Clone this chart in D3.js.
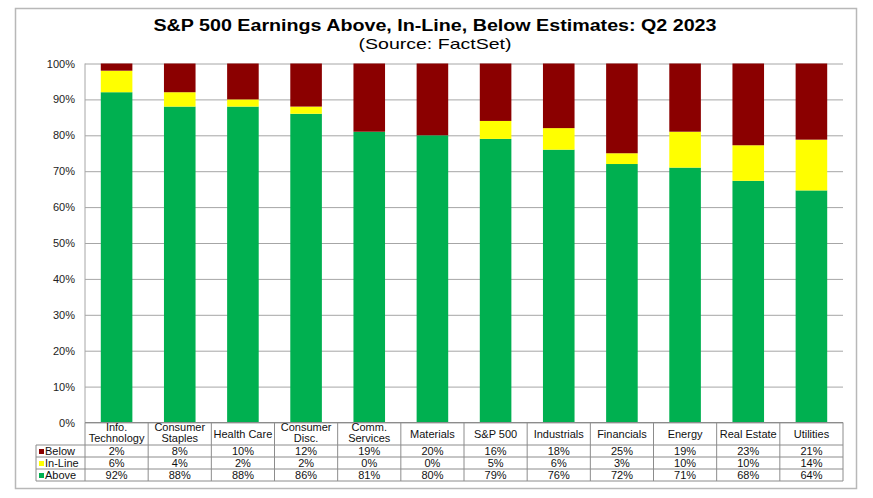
<!DOCTYPE html>
<html>
<head>
<meta charset="utf-8">
<script src="https://cdn.jsdelivr.net/npm/d3@7"></script>
<style>
  html, body { margin: 0; padding: 0; background: #fff; }
  svg { display: block; font-family: "Liberation Sans", Arial, sans-serif; }
</style>
</head>
<body>
<svg id="chart" width="873" height="498"></svg>
<script>
// ---- Data ----
const categories = [
  ["Info.", "Technology"], ["Consumer", "Staples"], ["Health Care"], ["Consumer", "Disc."],
  ["Comm.", "Services"], ["Materials"], ["S&P 500"], ["Industrials"], ["Financials"],
  ["Energy"], ["Real Estate"], ["Utilities"]
];
const below  = [2, 8, 10, 12, 19, 20, 16, 18, 25, 19, 23, 21];
const inLine = [6, 4, 2, 2, 0, 0, 5, 6, 3, 10, 10, 14];
const above  = [92, 88, 88, 86, 81, 80, 79, 76, 72, 71, 68, 64];
const yTicks = [0, 10, 20, 30, 40, 50, 60, 70, 80, 90, 100];
const seriesNames = ["Below", "In-Line", "Above"];
const seriesColors = { "Above": "#00B050", "In-Line": "#FFFF00", "Below": "#8B0000" };

// ---- Layout ----
const svg = d3.select("#chart");
const plot = { left: 85, right: 843, top: 63.5, bottom: 422.5 };
const tableLeft = 36;
const headerBottom = 445;
const rowH = 12;

// frame
svg.append("rect").attr("x", 15.5).attr("y", 8.5).attr("width", 841).attr("height", 480)
  .attr("fill", "#fff").attr("stroke", "#b8b8b8").attr("stroke-width", 1.5);

// title (reference text is horizontally stretched)
svg.append("text").attr("x", 153.5).attr("y", 30.5)
  .attr("font-size", 16).attr("font-weight", "bold").attr("fill", "#000")
  .attr("textLength", 563).attr("lengthAdjust", "spacingAndGlyphs")
  .text("S&P 500 Earnings Above, In-Line, Below Estimates: Q2 2023");
svg.append("text").attr("x", 358.5).attr("y", 48.5)
  .attr("font-size", 15).attr("fill", "#000")
  .attr("textLength", 153).attr("lengthAdjust", "spacingAndGlyphs")
  .text("(Source: FactSet)");

// scales
const keys = categories.map((c, i) => i);
const x = d3.scaleBand().domain(keys).range([plot.left, plot.right])
  .paddingInner(0.5).paddingOuter(0.25);
const y = d3.scaleLinear().domain([0, 100]).range([plot.bottom, plot.top]);

// gridlines + y axis
const yAxis = d3.axisLeft(y).tickValues(yTicks).tickFormat(d => d + "%")
  .tickSize(-(plot.right - plot.left)).tickPadding(10);
const gy = svg.append("g").attr("transform", `translate(${plot.left},0)`).call(yAxis);
gy.select(".domain").remove();
gy.selectAll(".tick line").attr("stroke", "#a6a6a6").attr("stroke-width", 1);
gy.selectAll(".tick text").attr("font-size", 11).attr("fill", "#222")
  .attr("font-family", "'Liberation Sans', Arial, sans-serif");
svg.append("line").attr("x1", plot.left).attr("x2", plot.left)
  .attr("y1", plot.top).attr("y2", plot.bottom).attr("stroke", "#a6a6a6");

// stacked bars (Above bottom, In-Line, Below top)
const rows = keys.map(i => ({ i, "Above": above[i], "In-Line": inLine[i], "Below": below[i] }));
const stack = d3.stack().keys(["Above", "In-Line", "Below"]).offset(d3.stackOffsetExpand);
const stacked = stack(rows);
svg.append("g").selectAll("g").data(stacked).join("g")
  .attr("fill", s => seriesColors[s.key])
  .selectAll("rect").data(s => s).join("rect")
  .attr("x", d => x(d.data.i))
  .attr("width", x.bandwidth())
  .attr("y", d => y(d[1] * 100))
  .attr("height", d => Math.max(0, y(d[0] * 100) - y(d[1] * 100)));

// ---- Data table ----
const tcol = "#8c8c8c";
const step = x.step();
const colEdges = keys.map(i => x(i) + x.bandwidth() / 2 - step / 2).concat([plot.right]);
const tableBottom = headerBottom + rowH * 3;
const tg = svg.append("g");
colEdges.forEach(cx => {
  tg.append("line").attr("x1", cx).attr("x2", cx)
    .attr("y1", plot.bottom).attr("y2", tableBottom).attr("stroke", tcol);
});
tg.append("line").attr("x1", plot.left).attr("x2", plot.right)
  .attr("y1", plot.bottom).attr("y2", plot.bottom).attr("stroke", tcol);
for (let r = 0; r <= 3; r++) {
  const yy = headerBottom + r * rowH;
  tg.append("line").attr("x1", tableLeft).attr("x2", plot.right)
    .attr("y1", yy).attr("y2", yy).attr("stroke", tcol);
}
tg.append("line").attr("x1", tableLeft).attr("x2", tableLeft)
  .attr("y1", headerBottom).attr("y2", tableBottom).attr("stroke", tcol);

// header labels
keys.forEach(i => {
  const cx = x(i) + x.bandwidth() / 2;
  const lines = categories[i];
  const t = tg.append("text").attr("text-anchor", "middle").attr("font-size", 11).attr("fill", "#111");
  if (lines.length === 2) {
    t.append("tspan").attr("x", cx).attr("y", 431).text(lines[0]);
    t.append("tspan").attr("x", cx).attr("y", 442).text(lines[1]);
  } else {
    t.append("tspan").attr("x", cx).attr("y", 437.5).text(lines[0]);
  }
});

// body rows
const rowData = { "Below": below, "In-Line": inLine, "Above": above };
seriesNames.forEach((name, r) => {
  const yTop = headerBottom + r * rowH;
  const cy = yTop + rowH / 2 + 4;
  tg.append("rect").attr("x", tableLeft + 3).attr("y", yTop + 4).attr("width", 5).attr("height", 5)
    .attr("fill", seriesColors[name]);
  tg.append("text").attr("x", tableLeft + 9).attr("y", cy).attr("font-size", 11).attr("fill", "#111")
    .text(name);
  keys.forEach(i => {
    tg.append("text").attr("x", x(i) + x.bandwidth() / 2).attr("y", cy)
      .attr("text-anchor", "middle").attr("font-size", 11).attr("fill", "#111")
      .text(rowData[name][i] + "%");
  });
});
</script>
</body>
</html>
